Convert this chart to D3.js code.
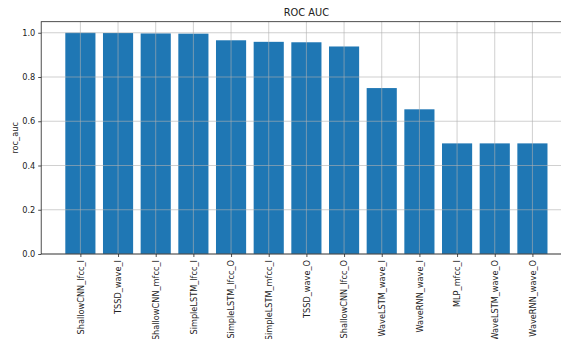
<!DOCTYPE html>
<html>
<head>
<meta charset="utf-8">
<script src="https://cdn.jsdelivr.net/npm/d3@7"></script>
<style>
  html, body { margin: 0; padding: 0; background: #fff; }
  svg { display: block; font-family: "DejaVu Sans", sans-serif; }
</style>
</head>
<body>
<svg id="chart" width="561" height="339"></svg>
<script>
// Model variants, ordered by score
const models = [
  "ShallowCNN_lfcc_I", "TSSD_wave_I", "ShallowCNN_mfcc_I", "SimpleLSTM_lfcc_I",
  "SimpleLSTM_lfcc_O", "SimpleLSTM_mfcc_I", "TSSD_wave_O", "ShallowCNN_lfcc_O",
  "WaveLSTM_wave_I", "WaveRNN_wave_I", "MLP_mfcc_I", "WaveLSTM_wave_O", "WaveRNN_wave_O"
];
const rocAuc = [1.0, 0.999, 0.997, 0.996, 0.966, 0.959, 0.957, 0.938, 0.750, 0.654, 0.500, 0.500, 0.500];
const yTicks = [0.0, 0.2, 0.4, 0.6, 0.8, 1.0];

const svg = d3.select("#chart");
const plotLeft = 41.2, plotTop = 21.7, plotBottom = 254;
const step = 37.67;
const n = models.length;
// Category axis: index -> pixel, with 5% padding around the bars
const x = d3.scaleLinear().domain([-1.04, n - 1 + 1.04]).range([plotLeft, plotLeft + (n - 1 + 2.08) * step]);
const y = d3.scaleLinear().domain([0, 1.05]).range([plotBottom, plotTop]);
const plotRight = x.range()[1];
const barW = 0.8 * step;

// Bars
svg.append("g").selectAll("rect").data(models).join("rect")
  .attr("x", (d, i) => x(i) - barW / 2)
  .attr("width", barW)
  .attr("y", (d, i) => y(rocAuc[i]))
  .attr("height", (d, i) => y(0) - y(rocAuc[i]))
  .attr("fill", "#1f77b4");

// Grid lines drawn over the bars
const grid = svg.append("g").attr("stroke", "#b0b0b0").attr("stroke-width", 0.8).attr("stroke-opacity", 0.75);
grid.selectAll("line.v").data(models).join("line").attr("class", "v")
  .attr("x1", (d, i) => x(i)).attr("x2", (d, i) => x(i))
  .attr("y1", plotTop).attr("y2", plotBottom);
grid.selectAll("line.h").data(yTicks).join("line").attr("class", "h")
  .attr("x1", plotLeft).attr("x2", plotRight)
  .attr("y1", d => y(d)).attr("y2", d => y(d));

// Y axis
const yAxis = d3.axisLeft(y).tickValues(yTicks).tickFormat(d3.format(".1f")).tickSize(3).tickPadding(3);
const gy = svg.append("g").attr("transform", `translate(${plotLeft},0)`).call(yAxis);
gy.select(".domain").remove();
gy.selectAll("text").attr("font-size", 8.2).attr("fill", "#222").attr("font-family", "DejaVu Sans");
gy.selectAll("line").attr("stroke", "#222").attr("stroke-width", 0.8);

// X axis with vertical labels
const xAxis = d3.axisBottom(x).tickValues(d3.range(n)).tickFormat(i => models[i]).tickSize(3).tickPadding(3);
const gx = svg.append("g").attr("transform", `translate(0,${plotBottom})`).call(xAxis);
gx.select(".domain").remove();
gx.selectAll("line").attr("stroke", "#222").attr("stroke-width", 0.8);
gx.selectAll("text")
  .attr("font-size", 8.2).attr("fill", "#222").attr("font-family", "DejaVu Sans")
  .attr("transform", "rotate(-90)")
  .attr("text-anchor", "end")
  .attr("x", -6).attr("y", 0).attr("dy", "0.35em");

// Frame
svg.append("rect").attr("x", plotLeft).attr("y", plotTop)
  .attr("width", plotRight - plotLeft).attr("height", plotBottom - plotTop)
  .attr("fill", "none").attr("stroke", "#222").attr("stroke-width", 0.8);

// Title and axis label
svg.append("text").attr("x", (plotLeft + plotRight) / 2).attr("y", plotTop - 6)
  .attr("text-anchor", "middle").attr("font-size", 9.8).attr("fill", "#222").text("ROC AUC");
svg.append("text").attr("transform", `translate(15,${(plotTop + plotBottom) / 2}) rotate(-90)`)
  .attr("text-anchor", "middle").attr("dy", "0.35em")
  .attr("font-size", 8.2).attr("fill", "#222").text("roc_auc");
</script>
</body>
</html>
